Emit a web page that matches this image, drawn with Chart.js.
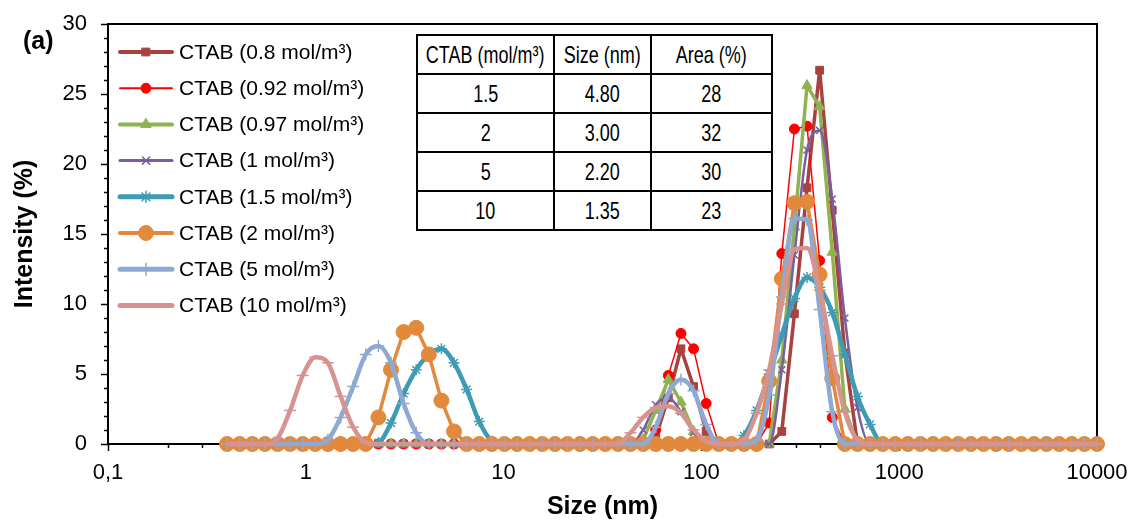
<!DOCTYPE html>
<html>
<head>
<meta charset="utf-8">
<title>CTAB size distribution</title>
<script src="https://cdn.jsdelivr.net/npm/chart.js@4.4.1/dist/chart.umd.min.js"></script>
<style>
  html, body { margin: 0; padding: 0; background: #fff; }
  #wrap { position: relative; width: 1132px; height: 522px; }
  #panel { position: absolute; left: 23px; top: 28px; font: bold 25px "Liberation Sans", Arial, sans-serif; line-height: 25px; }
  #sizeTable {
    position: absolute; left: 416px; top: 34px; width: 349px; border-collapse: collapse; table-layout: fixed;
    background: #fff; color: #000;
    font-family: "Liberation Sans", Arial, sans-serif; font-size: 24px;
  }
  #sizeTable td { border: 2.5px solid #000; padding: 0; height: 37px; white-space: nowrap; }
  #sizeTable .cell { display: flex; justify-content: center; width: 100%; }
  #sizeTable span { display: inline-block; transform: scaleX(0.75); }
</style>
</head>
<body>
<div id="wrap">
  <canvas id="chart" width="1132" height="522"></canvas>
  <div id="panel">(a)</div>
  <table id="sizeTable"></table>
</div>
<script>
// size classes (nm)
const sizes = [0.4, 0.4632, 0.5365, 0.6213, 0.7195, 0.8332, 0.9649, 1.117, 1.294, 1.499,
  1.736, 2.010, 2.328, 2.696, 3.122, 3.615, 4.187, 4.849, 5.615, 6.503,
  7.531, 8.721, 10.10, 11.70, 13.54, 15.69, 18.17, 21.04, 24.36, 28.21,
  32.67, 37.84, 43.82, 50.75, 58.77, 68.06, 78.82, 91.28, 105.7, 122.4,
  141.8, 164.2, 190.1, 220.2, 255.0, 295.3, 342.0, 396.1, 458.7, 531.2,
  615.1, 712.4, 825.0, 955.4, 1106, 1281, 1484, 1718, 1990, 2305,
  2669, 3091, 3580, 4145, 4801, 5560, 6439, 7456, 8635, 10000];

// intensity (%) per CTAB concentration
const c08 = [0, 0, 0, 0, 0, 0, 0, 0, 0, 0,
  0, 0, 0, 0, 0, 0, 0, 0, 0, 0,
  0, 0, 0, 0, 0, 0, 0, 0, 0, 0,
  0, 0, 0, 0, 0.5, 3.3, 6.8, 4.1, 0.9, 0,
  0, 0, 0, 0, 0.9, 9.3, 18.3, 26.7, 16.7, 6.5,
  0, 0, 0, 0, 0, 0, 0, 0, 0, 0,
  0, 0, 0, 0, 0, 0, 0, 0, 0, 0];
const c092 = [0, 0, 0, 0, 0, 0, 0, 0, 0, 0,
  0, 0, 0, 0, 0, 0, 0, 0, 0, 0,
  0, 0, 0, 0, 0, 0, 0, 0, 0, 0,
  0, 0, 0, 0, 1.0, 4.9, 7.9, 6.8, 2.9, 0,
  0, 0, 0, 1.5, 13.6, 22.5, 22.7, 13.1, 1.9, 0,
  0, 0, 0, 0, 0, 0, 0, 0, 0, 0,
  0, 0, 0, 0, 0, 0, 0, 0, 0, 0];
const c097 = [0, 0, 0, 0, 0, 0, 0, 0, 0, 0,
  0, 0, 0, 0, 0, 0, 0, 0, 0, 0,
  0, 0, 0, 0, 0, 0, 0, 0, 0, 0,
  0, 0, 0, 0.3, 2.4, 4.6, 3.0, 0.9, 0, 0,
  0, 0, 0, 0, 6.0, 15.5, 25.6, 24.1, 13.7, 2.5,
  0, 0, 0, 0, 0, 0, 0, 0, 0, 0,
  0, 0, 0, 0, 0, 0, 0, 0, 0, 0];
const c1 = [0, 0, 0, 0, 0, 0, 0, 0, 0, 0,
  0, 0, 0, 0, 0, 0, 0, 0, 0, 0,
  0, 0, 0, 0, 0, 0, 0, 0, 0, 0,
  0, 0, 0, 1.0, 2.8, 3.3, 2.3, 0.8, 0, 0,
  0, 0, 0, 0, 5.3, 13.5, 21.0, 22.4, 17.5, 9.0,
  2.6, 0, 0, 0, 0, 0, 0, 0, 0, 0,
  0, 0, 0, 0, 0, 0, 0, 0, 0, 0];
const c15 = [0, 0, 0, 0, 0, 0, 0, 0, 0, 0,
  0, 0, 0.1, 1.5, 3.6, 5.3, 6.4, 6.8, 5.8, 3.9,
  1.6, 0.2, 0, 0, 0, 0, 0, 0, 0, 0,
  0, 0, 0, 0, 0, 0, 0, 0, 0, 0,
  0, 0.6, 2.4, 5.0, 7.8, 10.4, 11.9, 11.2, 9.4, 6.4,
  3.4, 1.4, 0, 0, 0, 0, 0, 0, 0, 0,
  0, 0, 0, 0, 0, 0, 0, 0, 0, 0];
const c2 = [0, 0, 0, 0, 0, 0, 0, 0, 0, 0,
  0, 0, 1.9, 5.3, 8.0, 8.3, 6.4, 3.1, 0.9, 0,
  0, 0, 0, 0, 0, 0, 0, 0, 0, 0,
  0, 0, 0, 0, 0, 0, 0, 0, 0, 0,
  0, 0, 0, 4.5, 11.8, 17.2, 17.3, 12.1, 4.7, 0,
  0, 0, 0, 0, 0, 0, 0, 0, 0, 0,
  0, 0, 0, 0, 0, 0, 0, 0, 0, 0];
const c5 = [0, 0, 0, 0, 0, 0, 0, 0, 0.3, 1.9,
  4.1, 6.4, 7.0, 5.8, 2.9, 0.8, 0, 0, 0, 0,
  0, 0, 0, 0, 0, 0, 0, 0, 0, 0,
  0, 0, 0, 0, 1.2, 3.6, 4.6, 3.8, 1.4, 0,
  0, 0, 0.3, 3.5, 10.5, 16.1, 16.0, 9.6, 2.3, 0,
  0, 0, 0, 0, 0, 0, 0, 0, 0, 0,
  0, 0, 0, 0, 0, 0, 0, 0, 0, 0];
const c10 = [0, 0, 0, 0, 0.4, 2.4, 4.9, 6.2, 5.8, 3.4,
  1.2, 0.1, 0, 0, 0, 0, 0, 0, 0, 0,
  0, 0, 0, 0, 0, 0, 0, 0, 0, 0,
  0, 0, 0.8, 1.9, 2.6, 2.7, 2.2, 1.0, 0.2, 0,
  0, 0.3, 2.2, 5.3, 10.0, 13.9, 14.0, 11.0, 6.3, 2.3,
  0.3, 0, 0, 0, 0, 0, 0, 0, 0, 0,
  0, 0, 0, 0, 0, 0, 0, 0, 0, 0];

const seriesNames = ['CTAB (0.8 mol/m³)', 'CTAB (0.92 mol/m³)', 'CTAB (0.97 mol/m³)', 'CTAB (1 mol/m³)',
  'CTAB (1.5 mol/m³)', 'CTAB (2 mol/m³)', 'CTAB (5 mol/m³)', 'CTAB (10 mol/m³)'];
const seriesValues = [c08, c092, c097, c1, c15, c2, c5, c10];

// axis ticks
const xTicks = [0.1, 1, 10, 100, 1000, 10000];
const yTicks = [0, 5, 10, 15, 20, 25, 30];

// inset table
const tableHead = ['CTAB (mol/m³)', 'Size (nm)', 'Area (%)'];
const tableConc = ['1.5', '2', '5', '10'];
const tableSize = ['4.80', '3.00', '2.20', '1.35'];
const tableArea = ['28', '32', '30', '23'];

// line and marker look of each series
const styles = [
  { color: '#A8423F', width: 3.5, point: 'rect', radius: 5.5, pw: 1, smooth: false },
  { color: '#FF0000', width: 1.5, point: 'circle', radius: 5, pw: 1, smooth: false },
  { color: '#8FB350', width: 3.5, point: 'triangle', radius: 6, pw: 1, smooth: false },
  { color: '#7B5EA0', width: 2.5, point: 'crossRot', radius: 5, pw: 1.5, smooth: true },
  { color: '#3E9BB4', width: 4.5, point: 'star', radius: 5.5, pw: 1.5, smooth: true },
  { color: '#E2893C', width: 3.5, point: 'circle', radius: 7.5, pw: 1, smooth: false },
  { color: '#8EA9D2', width: 4.5, point: 'cross', radius: 6, pw: 1.5, smooth: true },
  { color: '#D69390', width: 4.5, point: 'line', radius: 6, pw: 1.5, smooth: true }
];

// build the table
const table = document.getElementById('sizeTable');
const colWidths = [135, 95, 119];
const rows = [tableHead].concat(tableConc.map((c, i) => [c, tableSize[i], tableArea[i]]));
rows.forEach(r => {
  const tr = document.createElement('tr');
  r.forEach((txt, j) => {
    const td = document.createElement('td');
    const cell = document.createElement('div');
    const span = document.createElement('span');
    cell.className = 'cell';
    span.textContent = txt;
    cell.appendChild(span);
    td.appendChild(cell);
    td.style.width = colWidths[j] + 'px';
    tr.appendChild(td);
  });
  table.appendChild(tr);
});

// scales keep exactly the box given to them
function noScalePadding(scale) {
  scale.paddingTop = 0;
  scale.paddingBottom = 0;
  scale.paddingLeft = 0;
  scale.paddingRight = 0;
}

// frame and tick marks, under the data
const frameTicks = {
  id: 'frameTicks',
  beforeDatasetsDraw(chart) {
    const { ctx, chartArea: a, scales: { x, y } } = chart;
    ctx.save();
    ctx.strokeStyle = '#000';
    ctx.lineWidth = 1.5;
    ctx.beginPath();
    for (let v = 0; v <= 30; v++) {
      const py = Math.round(y.getPixelForValue(v)) + 0.5;
      const len = v % 5 === 0 ? 7 : 4;
      ctx.moveTo(a.left - len, py);
      ctx.lineTo(a.left, py);
    }
    xTicks.forEach((d, k) => {
      const last = k === xTicks.length - 1;
      for (let m = 1; m <= (last ? 1 : 9); m++) {
        const px = Math.round(x.getPixelForValue(d * m)) + 0.5;
        const len = m === 1 ? 7 : 4;
        ctx.moveTo(px, a.bottom);
        ctx.lineTo(px, a.bottom + len);
      }
    });
    ctx.stroke();
    ctx.lineWidth = 2;
    ctx.strokeRect(a.left, a.top, a.right - a.left, a.bottom - a.top);
    ctx.restore();
  }
};

// legend in the upper left of the plot
const sideLegend = {
  id: 'sideLegend',
  afterDraw(chart) {
    const { ctx } = chart;
    ctx.save();
    ctx.font = '21px "Liberation Sans", Arial, sans-serif';
    ctx.textBaseline = 'middle';
    ctx.textAlign = 'left';
    seriesNames.forEach((name, i) => {
      const s = styles[i];
      const yy = 52 + i * 36.2;
      ctx.strokeStyle = s.color;
      ctx.fillStyle = s.color;
      ctx.lineCap = 'round';
      ctx.lineWidth = s.width + 0.5;
      ctx.beginPath();
      ctx.moveTo(120, yy);
      ctx.lineTo(172, yy);
      ctx.stroke();
      ctx.lineWidth = s.pw;
      Chart.helpers.drawPoint(ctx, { pointStyle: s.point, radius: s.radius, borderWidth: s.pw, rotation: 0 }, 146, yy);
      ctx.fillStyle = '#000';
      ctx.fillText(name, 179, yy + 1);
    });
    ctx.restore();
  }
};

Chart.defaults.font.family = '"Liberation Sans", Arial, sans-serif';
Chart.defaults.color = '#000';

const datasets = seriesNames.map((name, i) => {
  const s = styles[i];
  return {
    label: name,
    data: seriesValues[i].map((v, k) => ({ x: sizes[k], y: v })),
    borderColor: s.color,
    backgroundColor: s.color,
    borderWidth: s.width,
    pointStyle: s.point,
    pointRadius: s.radius,
    pointBorderWidth: s.pw,
    pointBackgroundColor: s.color,
    pointBorderColor: s.color,
    tension: s.smooth ? 0.4 : 0,
    cubicInterpolationMode: s.smooth ? 'monotone' : 'default',
    borderJoinStyle: 'round',
    clip: false,
    order: seriesNames.length - i
  };
});

new Chart(document.getElementById('chart'), {
  type: 'line',
  data: { datasets },
  options: {
    responsive: false,
    animation: false,
    devicePixelRatio: 1,
    layout: { autoPadding: false, padding: { top: 24, right: 35, bottom: 0, left: 0 } },
    plugins: {
      legend: { display: false },
      tooltip: { enabled: false }
    },
    scales: {
      x: {
        type: 'logarithmic',
        min: 0.1,
        max: 10000,
        afterBuildTicks: scale => { scale.ticks = xTicks.map(v => ({ value: v })); },
        afterFit: scale => { scale.height = 78; noScalePadding(scale); },
        grid: { display: false, drawTicks: false },
        border: { display: false },
        ticks: {
          autoSkip: false,
          maxRotation: 0,
          padding: 16,
          font: { size: 22 },
          callback: v => (v === 0.1 ? '0,1' : String(v))
        },
        title: {
          display: true,
          text: 'Size (nm)',
          font: { size: 25, weight: 'bold' },
          padding: { top: 0, bottom: 0 }
        }
      },
      y: {
        min: 0,
        max: 30,
        afterBuildTicks: scale => { scale.ticks = yTicks.map(v => ({ value: v })); },
        afterFit: scale => { scale.width = 108; noScalePadding(scale); },
        grid: { display: false, drawTicks: false },
        border: { display: false },
        ticks: { padding: 21, font: { size: 22 } },
        title: {
          display: true,
          text: 'Intensity (%)',
          font: { size: 25, weight: 'bold' },
          padding: { top: 10, bottom: 0 }
        }
      }
    }
  },
  plugins: [frameTicks, sideLegend]
});
</script>
</body>
</html>
